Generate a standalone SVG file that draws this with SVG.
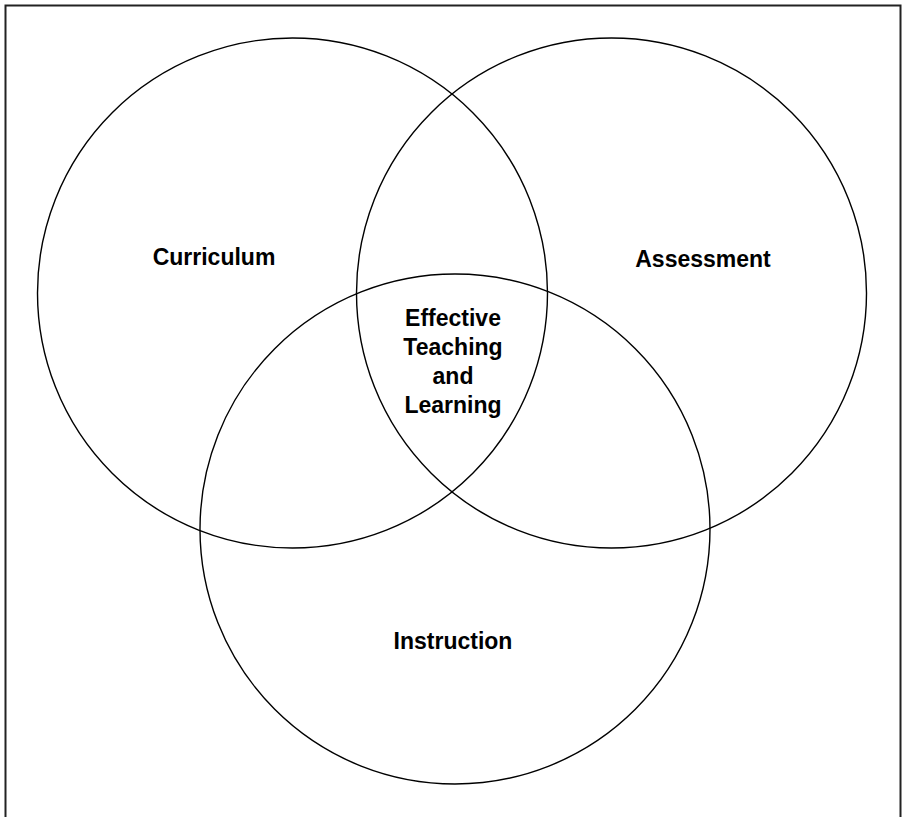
<svg xmlns="http://www.w3.org/2000/svg" width="905" height="817" viewBox="0 0 905 817">
  <style>
    .ring { fill: none; stroke: #000; stroke-width: 1.4; }
    .label { font-family: "Liberation Sans", Arial, sans-serif; font-weight: bold; font-size: 23px; fill: #000; text-anchor: middle; }
  </style>
  <rect x="0" y="0" width="905" height="817" fill="#fff"/>
  <!-- outer frame -->
  <rect x="5.5" y="5.5" width="895" height="830" fill="none" stroke="#222" stroke-width="2"/>

  <g id="curriculum">
    <circle class="ring" cx="292.5" cy="293" r="255"/>
    <text class="label" x="214" y="265">Curriculum</text>
  </g>
  <g id="assessment">
    <circle class="ring" cx="611.5" cy="293" r="255"/>
    <text class="label" x="703" y="267">Assessment</text>
  </g>
  <g id="instruction">
    <circle class="ring" cx="455" cy="529" r="255"/>
    <text class="label" x="453" y="649">Instruction</text>
  </g>
  <g id="center">
    <text class="label" x="453" y="326">Effective</text>
    <text class="label" x="453" y="355">Teaching</text>
    <text class="label" x="453" y="384">and</text>
    <text class="label" x="453" y="413">Learning</text>
  </g>
</svg>
